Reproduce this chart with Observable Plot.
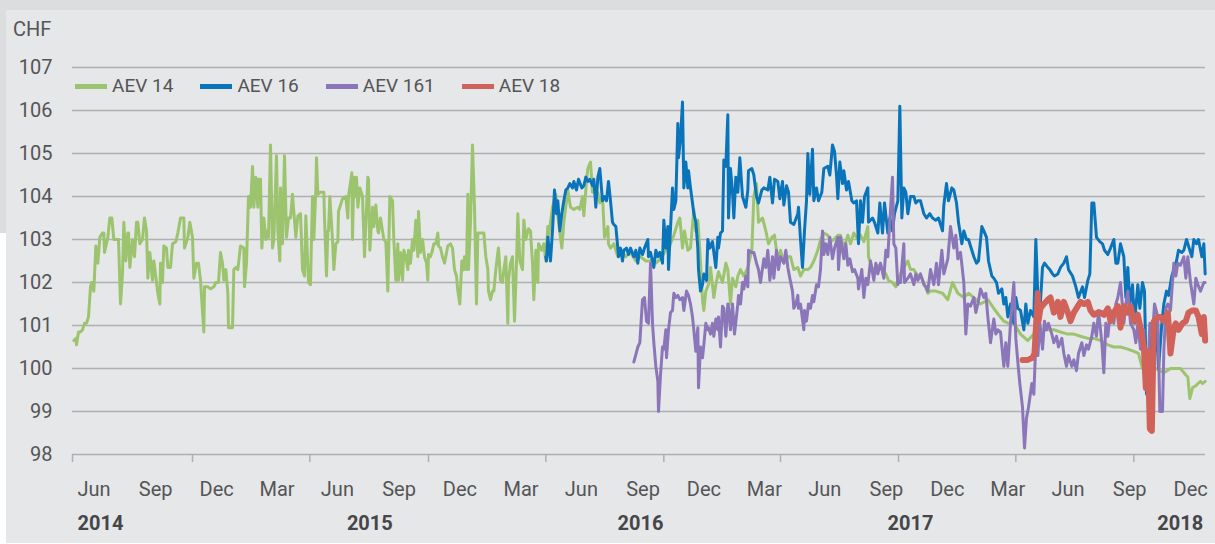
<!DOCTYPE html>
<html>
<head>
<meta charset="utf-8">
<script src="https://cdn.jsdelivr.net/npm/d3@7"></script>
<script src="https://cdn.jsdelivr.net/npm/@observablehq/plot@0.6"></script>
<style>
  body { margin: 0; background: #ffffff; font-family: Roboto, "Liberation Sans", sans-serif; }
  #wrap { position: relative; width: 1215px; height: 544px; overflow: hidden; }
  .layer { position: absolute; }
  #legend { position: absolute; left: 75px; top: 75px; display: flex; align-items: center; gap: 27px; font-size: 19px; color: #545557; line-height: 22px; }
  .item { display: flex; align-items: center; }
  .sw { width: 32px; height: 5px; margin-right: 5px; }
  #unit { position: absolute; left: 13px; top: 18px; font-size: 20px; color: #545557; line-height: 22px; }
</style>
</head>
<body>
<div id="wrap">
  <div class="layer" style="left:0;top:0;width:1215px;height:10px;background:#dcdddf"></div>
  <div class="layer" style="left:0;top:0;width:6px;height:233px;background:#dcdddf"></div>
  <div class="layer" style="left:6px;top:10px;width:1209px;height:533px;background:#e6e7e8"></div>
  <div class="layer" id="chart" style="left:0;top:0"></div>
  <div id="unit">CHF</div>
  <div id="legend"></div>
</div>
<script>
// ---- data (day offsets from 1 Jun 2014, price in CHF) ----
const startDate = "2014-06-01";
const yTicks = [98, 99, 100, 101, 102, 103, 104, 105, 106, 107];
const tickDays = [0, 180, 356, 534, 710, 887, 1062, 1239, 1415, 1592];
const monthLabelDates = ["2014-06-01","2014-09-01","2014-12-01","2015-03-01","2015-06-01","2015-09-01","2015-12-01","2016-03-01","2016-06-01","2016-09-01","2016-12-01","2017-03-01","2017-06-01","2017-09-01","2017-12-01","2018-03-01","2018-06-01","2018-09-01","2018-12-01"];
const yearLabels = ["2014", "2015", "2016", "2017", "2018"];
const yearLabelDays = [0, 446, 852, 1257, 1699];
const seriesNames = ["AEV 14", "AEV 16", "AEV 161", "AEV 18"];

const aev14 = [[2,100.65],[5,100.7],[6,100.55],[9,100.85],[12,100.85],[15,100.9],[18,101.05],[21,101.05],[24,101.2],[27,101.9],[29,102.0],[32,101.8],[35,102.85],[38,102.45],[41,103.05],[45,103.15],[47,103.15],[48,102.7],[53,103.05],[56,103.5],[59,103.5],[62,103.0],[69,103.0],[72,101.5],[75,102.2],[77,103.4],[80,102.5],[83,103.15],[84,103.15],[86,102.35],[90,103.0],[93,102.6],[96,103.4],[98,103.4],[101,102.9],[105,103.0],[108,103.5],[111,103.2],[113,102.1],[116,102.7],[120,102.05],[122,102.5],[128,101.75],[131,101.5],[132,102.45],[135,102.0],[137,102.85],[141,102.8],[143,102.35],[147,102.35],[150,102.9],[155,102.95],[158,103.15],[162,103.5],[167,103.5],[168,102.8],[173,103.05],[176,103.4],[180,103.05],[182,102.1],[186,102.45],[189,102.45],[192,102.05],[197,100.85],[198,101.9],[203,101.9],[207,101.85],[212,101.9],[215,102.0],[219,102.0],[222,102.7],[225,102.45],[227,102.05],[230,102.3],[233,101.75],[234,100.95],[237,100.95],[240,100.95],[242,102.3],[245,102.35],[248,102.3],[252,102.85],[257,102.8],[258,101.9],[261,102.45],[264,104.0],[267,103.75],[270,104.7],[272,103.75],[275,104.45],[278,103.75],[279,104.4],[282,104.4],[284,102.8],[287,103.5],[290,103.0],[293,103.2],[294,103.05],[297,105.2],[300,102.8],[302,103.0],[306,104.95],[308,103.2],[311,102.5],[312,104.2],[315,102.9],[318,104.95],[321,103.05],[324,103.5],[327,103.5],[330,104.05],[335,103.05],[338,103.55],[342,103.6],[345,102.3],[348,102.15],[350,103.55],[354,102.0],[357,101.95],[360,104.0],[362,103.0],[365,104.15],[366,104.9],[368,104.05],[372,104.1],[377,104.1],[378,103.5],[381,102.15],[383,103.2],[384,103.2],[386,104.0],[390,103.0],[392,102.3],[395,102.9],[398,102.95],[399,103.65],[405,103.95],[410,104.0],[413,103.5],[414,104.0],[419,104.55],[420,103.0],[422,104.45],[425,104.0],[426,104.45],[428,103.75],[431,104.2],[435,104.0],[438,102.6],[443,104.45],[444,104.4],[446,102.75],[450,103.75],[452,103.3],[455,103.8],[458,103.2],[459,103.15],[462,103.5],[467,103.0],[470,102.95],[473,101.8],[476,104.0],[480,103.9],[482,103.0],[485,102.05],[488,102.9],[489,102.05],[492,102.7],[495,102.05],[497,102.75],[500,102.6],[503,102.3],[504,102.75],[507,102.45],[510,103.0],[512,102.75],[515,103.45],[518,102.6],[519,103.65],[522,102.7],[525,103.0],[528,102.6],[531,102.45],[533,102.05],[534,102.65],[537,102.6],[540,102.75],[542,102.9],[545,102.9],[548,103.15],[549,102.85],[552,102.8],[555,102.6],[558,102.45],[563,102.85],[567,102.9],[570,102.8],[573,102.3],[576,102.15],[578,101.8],[581,101.5],[584,102.5],[587,102.3],[588,102.6],[591,102.3],[593,104.05],[594,102.3],[597,103.4],[600,105.2],[603,103.75],[606,101.5],[608,103.15],[612,103.15],[617,103.15],[620,102.6],[623,102.3],[624,101.8],[627,101.6],[630,101.8],[632,101.8],[635,102.3],[638,102.7],[639,102.8],[642,102.05],[645,102.0],[647,102.3],[650,102.6],[653,101.05],[654,102.05],[657,102.45],[660,102.6],[663,101.1],[666,102.45],[668,103.6],[671,102.5],[675,102.3],[677,103.45],[680,103.0],[683,103.2],[684,103.25],[687,103.2],[690,102.45],[692,101.6],[695,102.75],[698,102.0],[699,102.9],[704,102.75],[707,102.9],[710,102.5],[713,103.3],[714,103.05],[720,103.75],[725,104.05],[729,103.4],[734,102.8],[737,103.4],[743,104.15],[747,103.75],[752,103.7],[758,103.75],[761,103.7],[765,104.0],[767,103.55],[771,104.35],[773,104.65],[777,104.8],[780,104.1],[782,104.15],[788,104.1],[791,103.85],[795,104.0],[798,103.05],[803,103.3],[804,102.9],[807,102.8],[812,102.9],[818,102.6],[822,102.75],[830,102.6],[837,102.7],[845,102.5],[852,102.6],[860,102.5],[867,102.5],[875,102.45],[882,102.55],[890,102.75],[897,102.9],[902,103.1],[908,103.4],[911,103.5],[915,102.8],[918,103.2],[923,102.75],[927,102.8],[932,103.7],[935,103.2],[938,103.45],[941,102.75],[945,101.6],[947,101.35],[950,101.8],[954,101.95],[957,102.35],[962,101.65],[965,101.95],[969,102.25],[975,102.0],[980,102.45],[983,102.3],[987,101.5],[990,102.1],[995,101.9],[998,102.15],[1002,102.3],[1007,102.15],[1013,102.35],[1019,102.75],[1022,104.0],[1026,104.3],[1029,103.4],[1035,103.5],[1040,103.2],[1044,102.9],[1049,103.05],[1053,103.1],[1058,102.5],[1062,102.75],[1067,102.45],[1073,102.6],[1077,102.6],[1082,102.3],[1088,102.35],[1092,102.15],[1097,102.3],[1103,102.3],[1107,102.35],[1112,102.5],[1118,102.75],[1122,103.0],[1127,103.15],[1133,103.1],[1137,102.95],[1142,103.0],[1148,103.1],[1152,103.1],[1157,102.8],[1163,103.1],[1167,102.9],[1172,103.15],[1178,103.0],[1182,103.1],[1187,102.95],[1193,103.3],[1194,102.6],[1200,102.3],[1208,102.4],[1215,102.3],[1220,102.2],[1224,102.05],[1230,102.0],[1235,101.9],[1239,102.1],[1245,102.3],[1253,102.5],[1257,102.3],[1262,102.3],[1268,102.15],[1272,102.15],[1277,102.0],[1283,101.75],[1287,101.8],[1295,101.8],[1305,101.75],[1313,101.6],[1320,102.0],[1328,101.75],[1337,101.65],[1344,101.75],[1352,101.65],[1362,101.5],[1373,101.6],[1382,101.4],[1389,101.25],[1397,101.1],[1404,101.05],[1412,101.05],[1422,100.8],[1433,100.65],[1442,100.8],[1448,100.95],[1460,100.9],[1472,100.9],[1482,100.85],[1493,100.8],[1502,100.8],[1512,100.75],[1523,100.7],[1532,100.7],[1542,100.65],[1553,100.55],[1562,100.5],[1572,100.5],[1583,100.45],[1592,100.4],[1599,100.35],[1605,100.0],[1613,99.95],[1625,100.0],[1637,99.9],[1647,100.0],[1662,100.0],[1670,99.85],[1673,99.8],[1676,99.3],[1680,99.55],[1685,99.6],[1688,99.65],[1692,99.7],[1695,99.65],[1699,99.7]];

const aev16 = [[710,102.6],[711,102.5],[713,103.05],[717,102.5],[720,103.2],[723,104.15],[726,103.6],[728,103.9],[731,103.2],[734,103.6],[737,103.9],[740,104.15],[743,104.2],[746,104.3],[750,104.2],[752,104.35],[756,104.15],[759,104.4],[764,104.2],[767,104.25],[770,104.45],[773,104.35],[776,104.4],[780,104.25],[782,104.4],[785,103.75],[788,104.45],[791,104.65],[795,103.9],[798,104.0],[801,103.9],[804,104.35],[807,103.9],[810,103.4],[812,103.35],[815,103.3],[818,102.8],[819,102.6],[822,102.8],[825,102.5],[827,102.75],[831,102.8],[834,102.65],[837,102.8],[842,102.6],[845,102.75],[848,102.45],[851,102.8],[855,102.65],[858,102.8],[863,103.0],[864,102.6],[867,102.7],[872,102.35],[875,102.75],[878,102.6],[881,102.7],[885,102.45],[887,103.45],[890,102.8],[893,103.3],[894,102.3],[897,103.25],[900,104.2],[902,103.7],[905,103.9],[908,105.7],[909,104.9],[912,105.35],[915,106.2],[917,104.2],[920,104.8],[923,104.2],[924,104.6],[927,104.2],[930,103.85],[932,103.6],[935,103.4],[938,102.8],[939,102.3],[942,101.8],[945,101.95],[947,102.2],[951,102.05],[953,103.0],[956,102.8],[960,102.95],[962,102.7],[965,102.35],[968,103.05],[969,102.8],[972,103.15],[975,103.2],[977,104.85],[980,104.7],[983,105.9],[984,103.5],[987,104.65],[990,104.1],[992,103.5],[995,104.45],[998,104.1],[1001,104.9],[1005,104.0],[1010,103.75],[1013,104.15],[1014,104.6],[1019,104.65],[1022,104.5],[1026,104.0],[1029,103.85],[1034,104.15],[1037,104.2],[1043,104.15],[1046,104.45],[1050,103.85],[1053,104.4],[1058,104.35],[1061,103.95],[1065,104.35],[1067,103.8],[1071,104.25],[1074,104.1],[1077,103.4],[1082,103.35],[1088,103.6],[1089,103.75],[1092,103.0],[1095,102.35],[1098,103.2],[1101,103.9],[1103,105.0],[1106,104.05],[1110,105.1],[1112,103.9],[1116,104.2],[1119,103.9],[1124,104.1],[1127,104.65],[1133,104.7],[1136,104.5],[1140,105.2],[1143,105.05],[1146,104.5],[1148,103.95],[1151,104.8],[1155,104.3],[1157,104.6],[1161,104.15],[1164,104.35],[1169,103.9],[1172,103.85],[1176,103.9],[1179,102.9],[1182,103.9],[1185,103.4],[1188,104.0],[1193,104.2],[1194,103.4],[1200,103.5],[1203,103.4],[1208,103.15],[1211,103.85],[1215,103.15],[1218,103.85],[1223,103.15],[1226,103.5],[1230,103.2],[1233,103.6],[1238,103.9],[1241,106.1],[1244,103.5],[1247,104.2],[1250,104.1],[1253,103.6],[1257,104.0],[1262,104.0],[1265,103.85],[1268,103.9],[1272,103.9],[1277,103.6],[1281,103.5],[1286,103.6],[1290,103.5],[1295,103.45],[1299,103.5],[1305,103.2],[1307,103.8],[1311,104.3],[1314,103.9],[1319,104.2],[1322,104.15],[1326,103.85],[1329,103.4],[1334,102.9],[1337,103.2],[1341,103.0],[1344,103.0],[1349,102.75],[1352,102.6],[1356,102.45],[1359,102.5],[1364,103.3],[1367,103.2],[1371,103.05],[1374,102.5],[1379,102.15],[1382,102.1],[1386,102.0],[1389,101.75],[1394,101.85],[1397,101.5],[1400,101.65],[1403,101.2],[1407,101.5],[1412,101.05],[1415,101.65],[1418,101.4],[1422,101.35],[1427,100.9],[1430,101.5],[1433,101.05],[1437,101.35],[1442,101.2],[1445,103.0],[1448,101.7],[1451,101.3],[1455,102.35],[1458,102.45],[1463,102.35],[1466,102.3],[1470,102.2],[1473,102.15],[1478,102.2],[1482,102.35],[1487,102.45],[1491,102.6],[1494,102.3],[1500,102.15],[1505,101.9],[1509,101.65],[1515,101.9],[1518,101.65],[1523,102.05],[1526,102.2],[1529,103.85],[1532,103.85],[1536,103.05],[1541,102.95],[1545,102.9],[1548,102.75],[1553,102.65],[1557,102.8],[1562,103.0],[1565,102.45],[1568,102.45],[1572,102.9],[1577,102.6],[1580,101.65],[1583,102.35],[1586,101.5],[1590,101.95],[1593,101.05],[1598,101.95],[1601,101.4],[1605,102.0],[1608,101.8],[1611,99.4],[1614,99.5],[1619,101.05],[1622,100.1],[1626,101.05],[1629,100.0],[1634,101.05],[1637,101.5],[1641,101.8],[1644,101.7],[1649,102.15],[1652,102.3],[1656,102.5],[1659,102.75],[1664,102.7],[1667,102.75],[1671,103.0],[1674,102.85],[1679,102.6],[1682,103.0],[1686,102.9],[1689,103.0],[1694,102.6],[1697,102.9],[1699,102.2]];

const aev161 = [[842,100.15],[848,100.5],[851,100.6],[855,101.6],[858,101.65],[861,101.1],[864,101.05],[867,102.45],[870,101.05],[872,100.6],[875,100.05],[878,99.7],[879,99.0],[882,99.85],[885,100.5],[887,100.45],[890,100.9],[891,100.25],[894,100.9],[897,101.3],[900,101.35],[902,101.75],[905,101.65],[908,101.7],[911,101.6],[915,101.65],[917,101.35],[921,101.8],[924,101.7],[927,101.5],[930,101.2],[932,100.9],[935,100.4],[938,100.95],[939,99.55],[942,100.5],[945,100.25],[947,100.55],[950,101.05],[953,100.9],[954,100.95],[957,100.8],[960,101.05],[962,100.75],[965,101.15],[968,100.9],[969,101.2],[972,100.5],[975,101.45],[977,101.4],[980,100.75],[983,101.5],[984,101.45],[987,100.9],[990,101.5],[992,101.05],[993,100.8],[998,101.5],[999,101.7],[1002,101.5],[1005,102.0],[1007,101.85],[1010,102.15],[1013,101.9],[1014,102.75],[1019,102.7],[1022,102.7],[1026,102.45],[1029,102.3],[1032,102.0],[1037,102.55],[1040,102.35],[1043,102.75],[1046,102.05],[1050,102.6],[1052,102.1],[1056,102.75],[1059,102.3],[1062,102.6],[1067,102.45],[1070,102.75],[1073,102.35],[1076,102.1],[1080,101.8],[1082,101.4],[1085,101.5],[1088,101.7],[1089,101.4],[1092,101.5],[1097,100.9],[1098,101.35],[1101,101.1],[1104,101.5],[1107,101.4],[1110,101.7],[1112,101.55],[1116,101.95],[1119,101.9],[1122,102.3],[1125,103.2],[1127,102.65],[1130,102.9],[1133,102.65],[1136,103.05],[1140,102.55],[1143,102.8],[1148,103.05],[1149,102.3],[1152,103.05],[1157,102.55],[1160,102.9],[1163,102.4],[1166,102.55],[1170,102.25],[1173,102.3],[1178,102.1],[1179,101.85],[1184,102.3],[1187,101.65],[1190,102.1],[1193,101.95],[1197,102.5],[1202,102.05],[1205,102.45],[1208,102.2],[1212,102.45],[1217,102.1],[1220,102.75],[1223,102.6],[1226,103.45],[1230,104.45],[1232,102.9],[1235,102.8],[1238,101.95],[1239,102.0],[1242,102.0],[1247,102.9],[1248,102.0],[1253,102.1],[1257,102.2],[1262,101.95],[1265,102.2],[1268,102.05],[1272,102.2],[1277,101.95],[1280,101.9],[1283,101.8],[1287,102.3],[1292,101.95],[1296,102.45],[1299,101.95],[1304,102.75],[1307,102.2],[1313,102.55],[1317,103.3],[1322,102.8],[1325,103.1],[1328,102.55],[1332,102.7],[1337,102.0],[1340,100.8],[1343,101.5],[1347,101.45],[1352,101.65],[1355,101.3],[1358,101.5],[1362,101.85],[1367,101.65],[1370,101.75],[1373,101.2],[1377,100.6],[1382,101.15],[1385,100.8],[1388,100.9],[1392,100.85],[1397,100.05],[1400,100.6],[1403,100.05],[1407,101.05],[1412,102.0],[1415,100.7],[1418,100.15],[1421,99.65],[1425,99.1],[1428,98.15],[1431,98.85],[1434,99.1],[1439,99.65],[1442,99.4],[1445,100.6],[1448,100.3],[1451,101.05],[1455,100.45],[1458,101.1],[1461,100.9],[1464,101.05],[1469,100.8],[1472,100.6],[1476,100.75],[1479,100.5],[1484,100.7],[1487,100.35],[1491,100.05],[1494,100.3],[1499,100.05],[1502,100.2],[1506,99.95],[1509,100.35],[1514,100.6],[1517,100.3],[1521,100.55],[1524,100.45],[1529,100.75],[1532,101.05],[1536,100.75],[1539,101.35],[1544,100.6],[1547,99.9],[1550,101.05],[1553,100.75],[1557,101.35],[1562,101.05],[1565,101.5],[1568,101.65],[1572,102.0],[1577,101.05],[1580,101.5],[1583,101.8],[1587,101.05],[1592,100.9],[1595,100.6],[1598,101.05],[1602,100.45],[1607,100.9],[1610,99.5],[1613,99.85],[1616,101.05],[1620,100.75],[1623,101.5],[1628,101.2],[1631,99.0],[1635,99.0],[1637,100.4],[1640,101.4],[1643,101.5],[1647,101.35],[1652,102.45],[1655,102.15],[1658,102.45],[1662,102.4],[1667,102.6],[1670,102.1],[1673,102.6],[1677,102.0],[1682,101.5],[1685,102.1],[1688,101.95],[1692,101.8],[1697,102.0],[1699,102.0]];

const aev18 = [[1425,100.2],[1433,100.2],[1440,100.25],[1443,100.35],[1446,101.2],[1448,101.75],[1449,101.1],[1452,101.4],[1457,101.5],[1463,101.6],[1467,101.65],[1472,101.3],[1478,101.55],[1482,101.2],[1487,101.55],[1493,101.3],[1497,101.1],[1502,101.3],[1508,101.45],[1512,101.55],[1517,101.5],[1523,101.55],[1527,101.35],[1532,101.25],[1538,101.3],[1542,101.3],[1547,101.25],[1553,101.4],[1557,101.1],[1562,101.3],[1568,101.45],[1572,100.95],[1577,101.45],[1583,101.3],[1587,101.45],[1592,101.1],[1598,101.25],[1602,100.95],[1607,100.5],[1610,99.55],[1613,100.4],[1616,98.6],[1619,98.55],[1622,101.1],[1628,101.2],[1632,101.2],[1637,101.1],[1643,101.3],[1647,100.35],[1652,100.95],[1655,101.05],[1659,100.9],[1665,101.05],[1670,101.1],[1674,101.3],[1680,101.35],[1685,101.35],[1689,101.2],[1694,100.8],[1697,101.2],[1699,100.65]];

// ---- rendering ----
const colors = ["#9cc46e", "#0a74bb", "#8a76b9", "#d0625a"];
const widths = [3, 3, 3, 6];
const T0 = new Date(startDate + "T00:00:00Z");
const dayToDate = d => new Date(T0.getTime() + d * 864e5);
const T1 = dayToDate(1699.5);
const rows = (pairs) => pairs.map(([d, v]) => ({date: dayToDate(d), price: v}));
const seriesData = [aev14, aev16, aev161, aev18].map(rows);
const tickDates = tickDays.map(dayToDate);
const monthDates = monthLabelDates.map(s => new Date(s + "T00:00:00Z"));
const yearRows = yearLabels.map((t, i) => ({text: t, date: dayToDate(yearLabelDays[i])}));
const fmtMonth = d3.utcFormat("%b");
const textColor = "#545557";
const gridColor = "#aeafb1";
const FS = 20;

const chart = Plot.plot({
  width: 1215,
  height: 544,
  marginLeft: 72,
  marginRight: 10,
  marginTop: 67,
  marginBottom: 90,
  style: {background: "transparent", fontFamily: "Roboto, 'Liberation Sans', sans-serif", fontSize: FS + "px", color: textColor},
  x: {type: "utc", domain: [T0, T1]},
  y: {domain: [98, 107]},
  marks: [
    Plot.gridY(yTicks, {stroke: gridColor, strokeOpacity: 1, strokeWidth: 1.5}),
    Plot.axisY(yTicks, {tickSize: 0, tickPadding: 20, fontSize: FS, fill: textColor, label: null, tickFormat: d => String(d)}),
    Plot.axisX(tickDates, {tickSize: 8, tickFormat: () => "", stroke: gridColor, strokeWidth: 1.5, label: null}),
    Plot.text(monthDates, {x: d => d, text: d => fmtMonth(d), frameAnchor: "bottom", dy: 41, dx: 5, textAnchor: "start", fontSize: FS, fill: textColor}),
    Plot.text(yearRows.slice(0, 1), {x: "date", text: "text", frameAnchor: "bottom", dy: 75, dx: 5, textAnchor: "start", fontSize: FS, fontWeight: "bold", fill: "#464648"}),
    Plot.text(yearRows.slice(1, -1), {x: "date", text: "text", frameAnchor: "bottom", dy: 75, textAnchor: "middle", fontSize: FS, fontWeight: "bold", fill: "#464648"}),
    Plot.text(yearRows.slice(-1), {x: "date", text: "text", frameAnchor: "bottom", dy: 75, dx: -2, textAnchor: "end", fontSize: FS, fontWeight: "bold", fill: "#464648"}),
    ...seriesData.map((data, i) => Plot.line(data, {x: "date", y: "price", stroke: colors[i], strokeWidth: widths[i], strokeLinejoin: "round", strokeLinecap: "round"}))
  ]
});
document.getElementById("chart").appendChild(chart);

const legend = document.getElementById("legend");
seriesNames.forEach((name, i) => {
  const item = document.createElement("div");
  item.className = "item";
  const sw = document.createElement("span");
  sw.className = "sw";
  sw.style.background = colors[i];
  const label = document.createElement("span");
  label.textContent = name;
  item.appendChild(sw);
  item.appendChild(label);
  legend.appendChild(item);
});
</script>
</body>
</html>
